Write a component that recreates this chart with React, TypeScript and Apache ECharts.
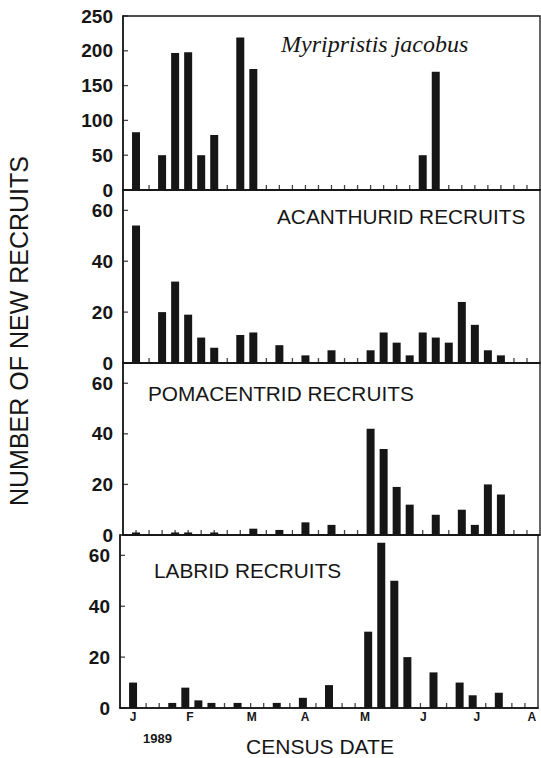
import React, { useEffect, useRef } from "react";
import * as echarts from "echarts";

// Census number (weekly censuses starting January 1989) -> recruits
const myripristis = [83, 0, 50, 197, 198, 50, 79, 0, 219, 174, 0, 0, 0, 0, 0, 0, 0, 0, 0, 0, 0, 0, 50, 170, 0, 0, 0, 0, 0, 0, 0];
const acanthurid = [54, 0, 20, 32, 19, 10, 6, 0, 11, 12, 0, 7, 0, 3, 0, 5, 0, 0, 5, 12, 8, 3, 12, 10, 8, 24, 15, 5, 3, 0, 0];
const pomacentrid = [1, 0, 0, 1, 1, 0, 1, 0, 0, 2.5, 0, 2, 0, 5, 0, 4, 0, 0, 42, 34, 19, 12, 0, 8, 0, 10, 4, 20, 16, 0, 0];
const labrid = [10, 0, 0, 2, 8, 3, 2, 0, 2, 0, 0, 2, 0, 4, 0, 9, 0, 0, 30, 65, 50, 20, 0, 14, 0, 10, 5, 0, 6, 0, 0];

const panelTitles = ["Myripristis jacobus", "ACANTHURID RECRUITS", "POMACENTRID RECRUITS", "LABRID RECRUITS"];
const topTicks = [0, 50, 100, 150, 200, 250];
const smallTicks = [0, 20, 40, 60];
const monthLabels = ["J", "F", "M", "A", "M", "J", "J", "A"];
const monthPos = [0, 4.36, 9.08, 13.17, 17.76, 22.22, 26.31, 30.52];

const INK = "#161616";

export default function App() {
  const ref = useRef<HTMLDivElement>(null);
  useEffect(() => {
    if (!ref.current) return;
    const chart = echarts.init(ref.current, undefined, { renderer: "svg" });
    const series = [myripristis, acanthurid, pomacentrid, labrid];
    const grids = [
      { left: 123, right: 1, top: 16, height: 174 },
      { left: 123, right: 1, top: 190, height: 173 },
      { left: 123, right: 1, top: 363, height: 172 },
      { left: 120, right: 3, top: 535, height: 173 },
    ].map((g) => ({ ...g, show: true, borderColor: INK, borderWidth: 1.3, backgroundColor: "transparent" }));

    const xAxes = grids.map((_, i) => ({
      type: "value",
      gridIndex: i,
      min: -1,
      max: 31,
      interval: 1,
      splitLine: { show: false },
      axisLine: { show: true, onZero: false, lineStyle: { color: INK, width: 1.5 } },
      axisTick: { show: false },
      axisLabel:
        i === 3
          ? {
              show: true,
              customValues: monthPos,
              margin: 3,
              fontFamily: "Liberation Sans, Arial, sans-serif",
              fontWeight: "bold",
              fontSize: 12,
              color: INK,
              formatter: (v: number) => {
                let best = 0;
                monthPos.forEach((p, j) => {
                  if (Math.abs(p - v) < Math.abs(monthPos[best] - v)) best = j;
                });
                return monthLabels[best];
              },
            }
          : { show: false },
    }));

    const yAxes = grids.map((_, i) => ({
      type: "value",
      gridIndex: i,
      min: 0,
      max: i === 0 ? 250 : 68,
      interval: i === 0 ? 50 : 20,
      splitLine: { show: false },
      axisLine: { show: true, onZero: false, lineStyle: { color: INK, width: 1.5 } },
      axisTick: { show: false },
      axisLabel: {
        customValues: i === 0 ? topTicks : smallTicks,
        margin: 10,
        fontFamily: "Liberation Sans, Arial, sans-serif",
        fontWeight: "bold",
        fontSize: 19,
        color: INK,
      },
    }));

    const bars = series.map((vals, i) => ({
      type: "bar",
      xAxisIndex: i,
      yAxisIndex: i,
      barWidth: 8,
      itemStyle: { color: INK },
      data: vals.map((v, k) => [k, v]),
      z: 3,
    }));

    // tick marks on each census position (x) and at labelled values (y), inside the frame
    const xTickMarks = series.map((vals, i) => ({
      type: "scatter",
      xAxisIndex: i,
      yAxisIndex: i,
      symbol: "rect",
      symbolSize: [1.3, 5],
      symbolOffset: [0, -2.5],
      clip: false,
      silent: true,
      itemStyle: { color: INK },
      data: vals.map((_, k) => [k, 0]),
      z: 2,
    }));
    const yTickMarks = series.map((_, i) => ({
      type: "scatter",
      xAxisIndex: i,
      yAxisIndex: i,
      symbol: "rect",
      symbolSize: [5, 1.3],
      symbolOffset: [2.5, 0],
      clip: false,
      silent: true,
      itemStyle: { color: INK },
      data: (i === 0 ? topTicks : smallTicks).map((v) => [-1, v]),
      z: 2,
    }));

    const titleStyle = { fontFamily: "Liberation Sans, Arial, sans-serif", fontSize: 20.8, fill: INK };
    chart.setOption({
      animation: false,
      backgroundColor: "#ffffff",
      grid: grids,
      xAxis: xAxes,
      yAxis: yAxes,
      series: [...bars, ...xTickMarks, ...yTickMarks],
      graphic: [
        {
          type: "text",
          x: 281,
          y: 44,
          style: { text: panelTitles[0], fontFamily: "Liberation Serif, Times New Roman, serif", fontStyle: "italic", fontSize: 24, fill: INK, textVerticalAlign: "middle" },
        },
        { type: "text", x: 277, y: 216, style: { ...titleStyle, text: panelTitles[1], textVerticalAlign: "middle" } },
        { type: "text", x: 148, y: 393, style: { ...titleStyle, text: panelTitles[2], textVerticalAlign: "middle" } },
        { type: "text", x: 154, y: 570, style: { ...titleStyle, text: panelTitles[3], textVerticalAlign: "middle" } },
        {
          type: "text",
          x: 143,
          y: 738,
          style: { text: "1989", fontFamily: "Liberation Sans, Arial, sans-serif", fontWeight: "bold", fontSize: 13, fill: INK, textVerticalAlign: "middle" },
        },
        {
          type: "text",
          x: 320,
          y: 746,
          style: { text: "CENSUS DATE", fontFamily: "Liberation Sans, Arial, sans-serif", fontSize: 21, fill: INK, textAlign: "center", textVerticalAlign: "middle" },
        },
        {
          type: "text",
          x: 19,
          y: 331,
          rotation: Math.PI / 2,
          style: { text: "NUMBER OF NEW RECRUITS", fontFamily: "Liberation Sans, Arial, sans-serif", fontSize: 25, fill: INK, textAlign: "center", textVerticalAlign: "middle" },
        },
      ],
    });
    return () => chart.dispose();
  }, []);
  return <div ref={ref} style={{ position: "fixed", left: 0, top: 0, width: 541, height: 758 }} />;
}
